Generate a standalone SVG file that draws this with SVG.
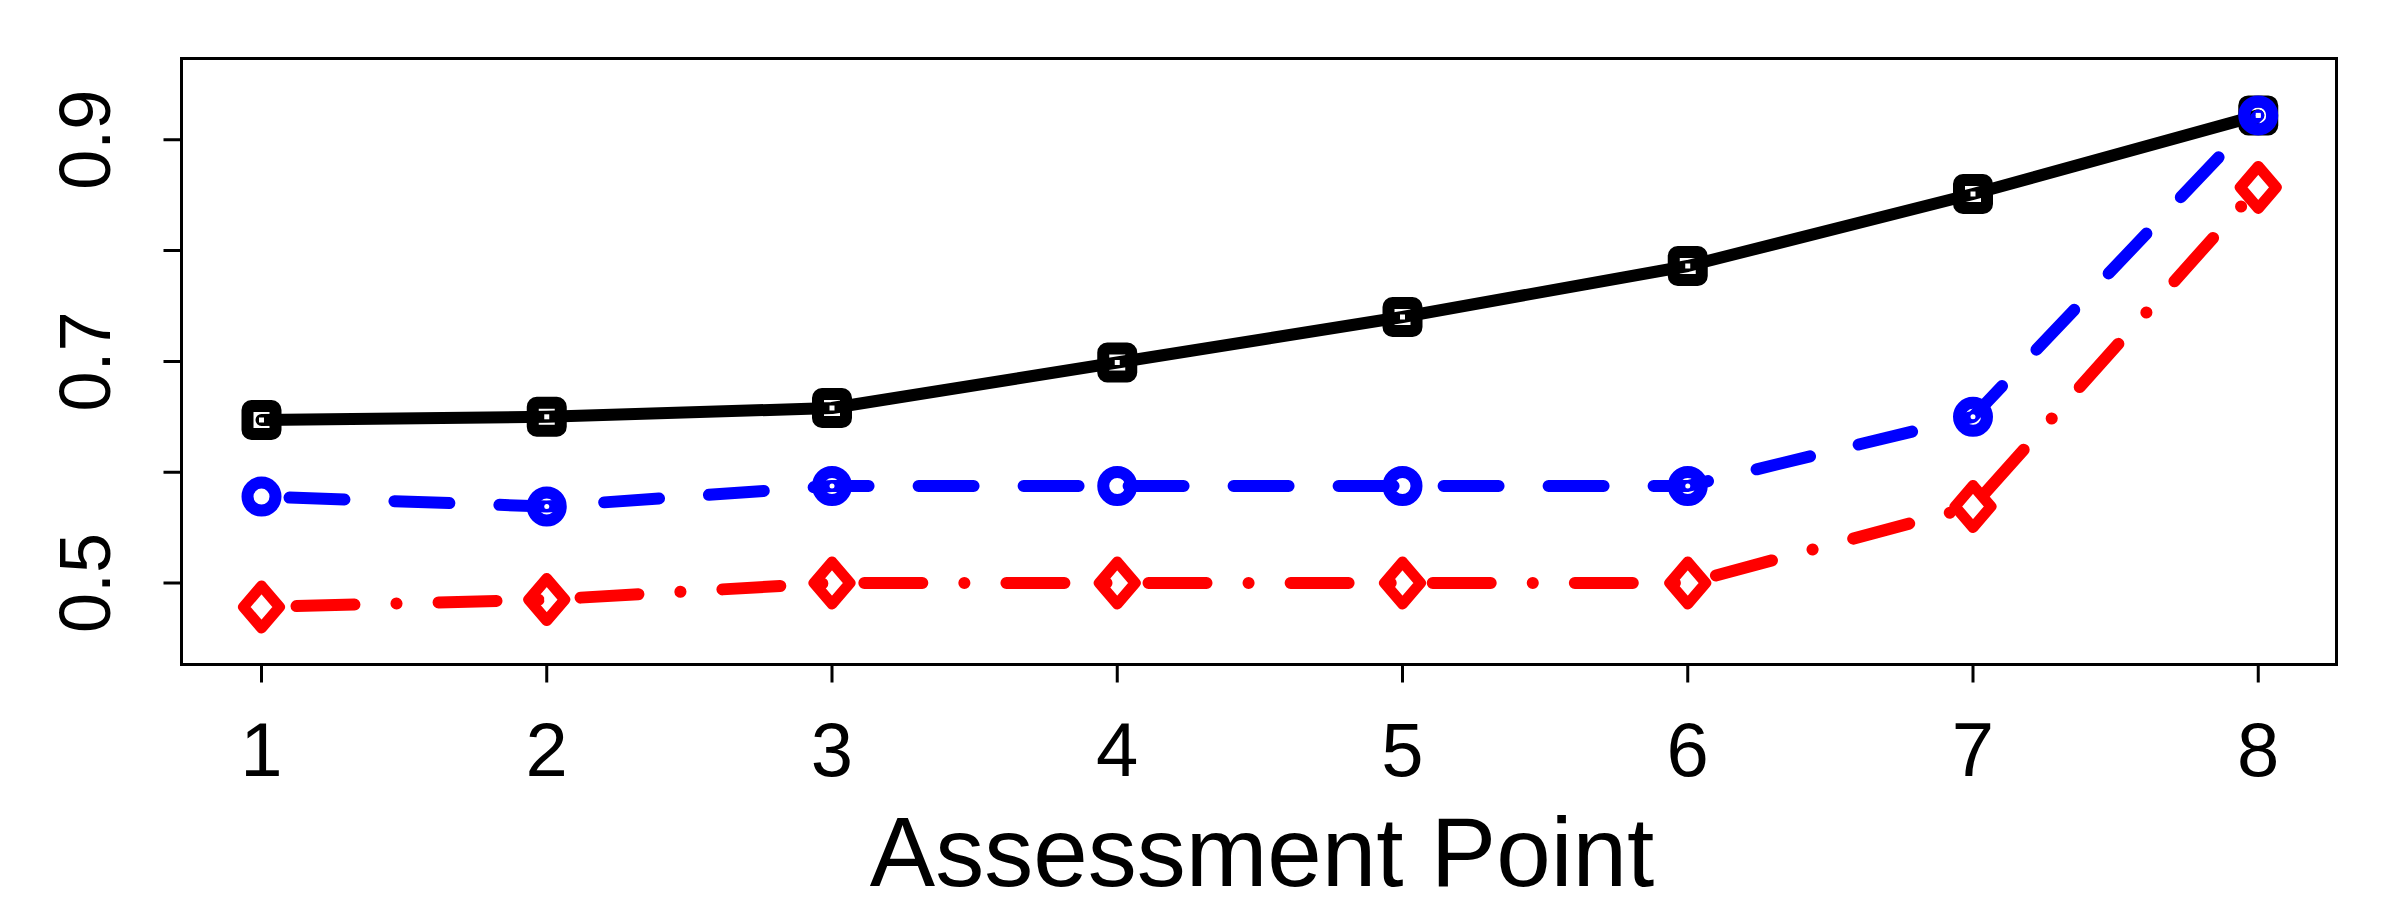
<svg xmlns="http://www.w3.org/2000/svg" width="2400" height="900" viewBox="0 0 2400 900">
<defs>
<style>
text{font-family:"Liberation Sans",Arial,sans-serif;fill:#000}
.ax{stroke:#000;stroke-width:3;fill:none}
.ln{fill:none;stroke-width:12;stroke-linecap:round;stroke-linejoin:round}
</style>
<g id="sq"><rect x="-14" y="-14" width="28" height="28" rx="4" fill="none" stroke="#000" stroke-width="12"/><rect x="-2.5" y="-2.5" width="5" height="5" fill="#fff"/></g>
<g id="ci"><circle r="14" fill="none" stroke="#00f" stroke-width="12"/><circle r="2.5" fill="#fff"/></g>
<g id="di"><path d="M0 -21 L18 0 L0 21 L-18 0 Z" fill="none" stroke="#f00" stroke-width="11" stroke-linejoin="round"/><circle r="2.5" fill="#fff"/></g>
</defs>
<rect width="2400" height="900" fill="#fff"/>
<g id="axes">
<rect x="181.5" y="58.5" width="2155" height="606" class="ax"/>
<path class="ax" d="M261.5 664.6v18M546.75 664.6v18M832 664.6v18M1117.25 664.6v18M1402.5 664.6v18M1687.75 664.6v18M1973 664.6v18M2258.25 664.6v18"/>
<path class="ax" d="M181.5 583h-18M181.5 472.2h-18M181.5 361.4h-18M181.5 250.6h-18M181.5 139.8h-18"/>
<g font-size="76" text-anchor="middle">
<text x="261.5" y="776">1</text><text x="546.75" y="776">2</text><text x="832" y="776">3</text><text x="1117.25" y="776">4</text><text x="1402.5" y="776">5</text><text x="1687.75" y="776">6</text><text x="1973" y="776">7</text><text x="2258.25" y="776">8</text>
</g>
<g font-size="72" text-anchor="middle">
<text transform="translate(110 583) rotate(-90)">0.5</text>
<text transform="translate(110 361.4) rotate(-90)">0.7</text>
<text transform="translate(110 139.8) rotate(-90)">0.9</text>
</g>
<text x="1262" y="886" font-size="98" text-anchor="middle">Assessment Point</text>
</g>
<g id="connectors">
<polyline class="ln" stroke="#000" points="261.5,420 546.75,416.8 832,408 1117.25,362.5 1402.5,317 1687.75,266 1973,194 2258.25,115.4"/>
<polyline class="ln" stroke="#00f" stroke-dasharray="55 50" stroke-dashoffset="-28" points="261.5,496.6 546.75,506.5 832,486 1117.25,486 1402.5,486 1687.75,486 1973,416.8 2258.25,115.4"/>
<polyline class="ln" stroke="#f00" stroke-dasharray="58 42 0.1 42" stroke-dashoffset="-35" points="261.5,607 546.75,599.6 832,583 1117.25,583 1402.5,583 1687.75,583 1973,506.5 2258.25,187.4"/>
</g>
<g id="black-points">
<use href="#sq" x="261.5" y="420"/><use href="#sq" x="546.75" y="416.8"/><use href="#sq" x="832" y="408"/><use href="#sq" x="1117.25" y="362.5"/><use href="#sq" x="1402.5" y="317"/><use href="#sq" x="1687.75" y="266"/><use href="#sq" x="1973" y="194"/><use href="#sq" x="2258.25" y="115.4"/>
</g>
<g id="blue-points">
<use href="#ci" x="261.5" y="496.6"/><use href="#ci" x="546.75" y="506.5"/><use href="#ci" x="832" y="486"/><use href="#ci" x="1117.25" y="486"/><use href="#ci" x="1402.5" y="486"/><use href="#ci" x="1687.75" y="486"/><use href="#ci" x="1973" y="416.8"/><use href="#ci" x="2258.25" y="115.4"/>
</g>
<g id="red-points">
<use href="#di" x="261.5" y="607"/><use href="#di" x="546.75" y="599.6"/><use href="#di" x="832" y="583"/><use href="#di" x="1117.25" y="583"/><use href="#di" x="1402.5" y="583"/><use href="#di" x="1687.75" y="583"/><use href="#di" x="1973" y="506.5"/><use href="#di" x="2258.25" y="187.4"/>
</g>
</svg>
